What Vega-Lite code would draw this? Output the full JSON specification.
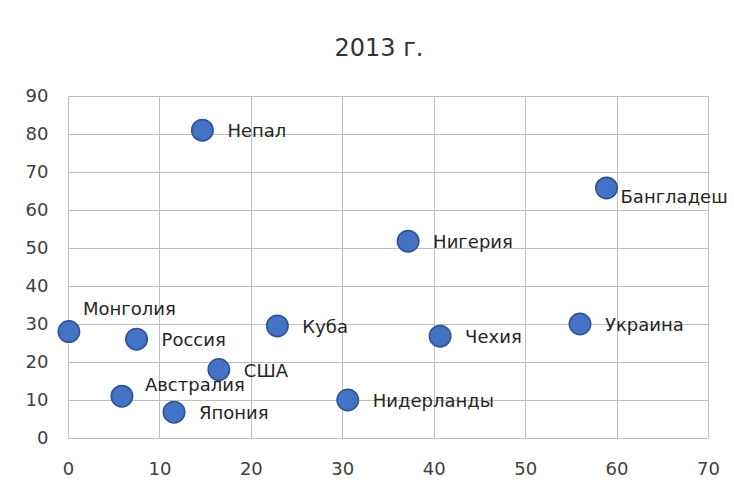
{
  "$schema": "https://vega.github.io/schema/vega-lite/v6.json",
  "width": 640,
  "height": 342,
  "autosize": {"type": "none"},
  "padding": {"left": 68, "top": 96, "right": 26, "bottom": 56},
  "background": "white",
  "title": {"text": "2013 г.", "font": "DejaVu Sans", "fontSize": 24, "fontWeight": "normal", "color": "#333333", "offset": 26, "dx": -9, "anchor": "middle"},
  "config": {"view": {"stroke": null}, "font": "DejaVu Sans"},
  "data": {"values": [
    {"country": "Монголия", "x": 0.1, "y": 28},
    {"country": "Россия", "x": 7.5, "y": 26},
    {"country": "Австралия", "x": 5.9, "y": 11},
    {"country": "Япония", "x": 11.6, "y": 6.8},
    {"country": "США", "x": 16.5, "y": 18},
    {"country": "Куба", "x": 22.9, "y": 29.5},
    {"country": "Непал", "x": 14.7, "y": 81},
    {"country": "Нидерланды", "x": 30.6, "y": 10},
    {"country": "Нигерия", "x": 37.2, "y": 51.8},
    {"country": "Чехия", "x": 40.7, "y": 26.8},
    {"country": "Украина", "x": 56.0, "y": 30},
    {"country": "Бангладеш", "x": 58.9, "y": 65.8}
  ]},
  "encoding": {
    "x": {"field": "x", "type": "quantitative", "scale": {"domain": [0, 70], "nice": false, "zero": false},
      "axis": {"title": null, "values": [0,10,20,30,40,50,60,70], "grid": true, "gridColor": "#BFBFBF", "gridWidth": 1, "domain": false, "ticks": false, "labelFlush": false, "labelPadding": 22, "labelFontSize": 18, "labelColor": "#404040", "labelFont": "DejaVu Sans"}},
    "y": {"field": "y", "type": "quantitative", "scale": {"domain": [0, 90], "nice": false, "zero": false},
      "axis": {"title": null, "values": [0,10,20,30,40,50,60,70,80,90], "grid": true, "gridColor": "#BFBFBF", "gridWidth": 1, "domain": false, "ticks": false, "labelFlush": false, "labelPadding": 20, "labelFontSize": 18, "labelColor": "#404040", "labelFont": "DejaVu Sans"}}
  },
  "layer": [
    {"mark": {"type": "circle", "size": 460, "color": "#4472C4", "opacity": 1, "stroke": "#2F528F", "strokeWidth": 1.5, "clip": false}},
    {"transform": [{"filter": "datum.country != 'Монголия' && datum.country != 'Австралия' && datum.country != 'Бангладеш'"}],
     "mark": {"type": "text", "align": "left", "baseline": "middle", "dx": 25, "dy": 2, "fontSize": 18, "color": "#262626"},
     "encoding": {"text": {"field": "country"}}},
    {"transform": [{"filter": "datum.country == 'Монголия'"}],
     "mark": {"type": "text", "align": "left", "baseline": "middle", "dx": 14, "dy": -22, "fontSize": 18, "color": "#262626"},
     "encoding": {"text": {"field": "country"}}},
    {"transform": [{"filter": "datum.country == 'Австралия'"}],
     "mark": {"type": "text", "align": "left", "baseline": "middle", "dx": 23, "dy": -10, "fontSize": 18, "color": "#262626"},
     "encoding": {"text": {"field": "country"}}},
    {"transform": [{"filter": "datum.country == 'Бангладеш'"}],
     "mark": {"type": "text", "align": "left", "baseline": "middle", "dx": 14, "dy": 10, "fontSize": 18, "color": "#262626"},
     "encoding": {"text": {"field": "country"}}}
  ]
}
